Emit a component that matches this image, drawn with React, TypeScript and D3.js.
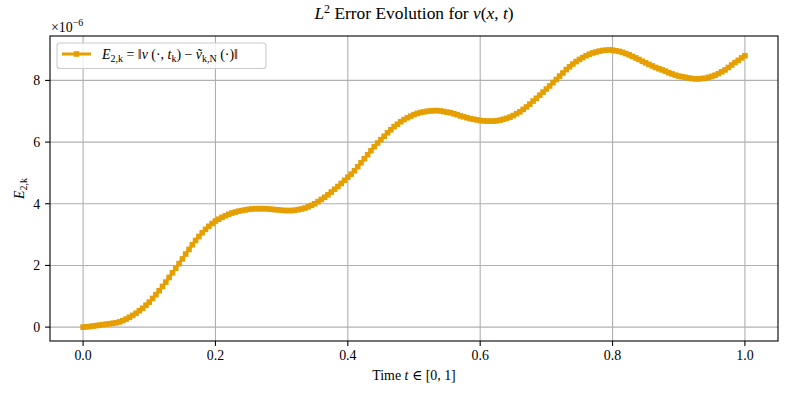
import React from "react";
import * as d3 from "d3";

// time grid (201 samples on [0,1])
const T_COUNT = 201;
const T_VALUES: number[] = Array.from({ length: T_COUNT }, (_, i) => i / (T_COUNT - 1));

// E_{2,k} values, in units of 1e-6
const E_VALUES: number[] = [
  0.00, 0.01, 0.02, 0.035, 0.05, 0.065, 0.08, 0.095, 0.11, 0.125,
  0.14, 0.17, 0.21, 0.26, 0.32, 0.38, 0.45, 0.53, 0.61, 0.71,
  0.81, 0.93, 1.05, 1.18, 1.32, 1.46, 1.61, 1.76, 1.91, 2.06,
  2.21, 2.37, 2.52, 2.67, 2.81, 2.94, 3.06, 3.17, 3.27, 3.36,
  3.44, 3.50, 3.56, 3.61, 3.66, 3.70, 3.73, 3.76, 3.78, 3.80,
  3.82, 3.83, 3.84, 3.84, 3.84, 3.84, 3.83, 3.82, 3.81, 3.80,
  3.79, 3.78, 3.78, 3.78, 3.79, 3.81, 3.83, 3.86, 3.90, 3.95,
  4.00, 4.07, 4.14, 4.21, 4.29, 4.38, 4.47, 4.56, 4.66, 4.76,
  4.86, 4.96, 5.07, 5.20, 5.33, 5.46, 5.59, 5.72, 5.85, 5.97,
  6.08, 6.19, 6.30, 6.40, 6.50, 6.58, 6.66, 6.73, 6.79, 6.84,
  6.89, 6.93, 6.96, 6.98, 7.00, 7.01, 7.02, 7.02, 7.01, 6.99,
  6.97, 6.95, 6.92, 6.89, 6.85, 6.82, 6.79, 6.76, 6.74, 6.72,
  6.70, 6.69, 6.68, 6.68, 6.68, 6.69, 6.71, 6.74, 6.77, 6.81,
  6.86, 6.92, 6.98, 7.06, 7.14, 7.23, 7.33, 7.42, 7.52, 7.62,
  7.72, 7.82, 7.93, 8.03, 8.14, 8.24, 8.35, 8.44, 8.53, 8.61,
  8.68, 8.74, 8.80, 8.85, 8.89, 8.92, 8.95, 8.97, 8.98, 8.99,
  8.98, 8.96, 8.94, 8.91, 8.87, 8.83, 8.78, 8.73, 8.68, 8.62,
  8.57, 8.52, 8.47, 8.42, 8.38, 8.34, 8.30, 8.25, 8.21, 8.17,
  8.14, 8.12, 8.10, 8.08, 8.06, 8.05, 8.05, 8.06, 8.07, 8.10,
  8.13, 8.17, 8.22, 8.28, 8.34, 8.42, 8.50, 8.58, 8.65, 8.73,
  8.80,
];

const X_TICKS = [0, 0.2, 0.4, 0.6, 0.8, 1.0];
const Y_TICKS = [0, 2, 4, 6, 8];

const W = 793;
const H = 397;
const M = { left: 50, right: 778, top: 36, bottom: 341 };
const ORANGE = "#E69F00";
const FONT = "'Liberation Serif', 'DejaVu Serif', serif";

export default function App() {
  const x = d3.scaleLinear().domain([-0.05, 1.05]).range([M.left, M.right]);
  const y = d3.scaleLinear().domain([-0.45, 9.44]).range([M.bottom, M.top]);
  const data = T_VALUES.map((t, i) => [t, E_VALUES[i]] as [number, number]);
  const line = d3
    .line<[number, number]>()
    .x((d) => x(d[0]))
    .y((d) => y(d[1]));
  const ms = 5.6;

  return (
    <div>
      <style>{`body{margin:0}`}</style>
      <svg width={W} height={H} style={{ display: "block", background: "#fff" }} fontFamily={FONT}>
        {/* grid */}
        {X_TICKS.map((t) => (
          <line key={"gx" + t} x1={x(t)} x2={x(t)} y1={M.top} y2={M.bottom} stroke="#b0b0b0" strokeWidth={1.1} />
        ))}
        {Y_TICKS.map((t) => (
          <line key={"gy" + t} x1={M.left} x2={M.right} y1={y(t)} y2={y(t)} stroke="#b0b0b0" strokeWidth={1.1} />
        ))}
        {/* series */}
        <path d={line(data) || ""} fill="none" stroke={ORANGE} strokeWidth={3} strokeLinejoin="round" />
        {data.map((d, i) => (
          <rect key={i} x={x(d[0]) - ms / 2} y={y(d[1]) - ms / 2} width={ms} height={ms} fill={ORANGE} />
        ))}
        {/* spines */}
        <rect x={M.left} y={M.top} width={M.right - M.left} height={M.bottom - M.top} fill="none" stroke="#000" strokeWidth={1.1} />
        {/* x ticks */}
        {X_TICKS.map((t) => (
          <g key={"xt" + t}>
            <line x1={x(t)} x2={x(t)} y1={M.bottom} y2={M.bottom + 4.9} stroke="#000" strokeWidth={1.1} />
            <text x={x(t)} y={M.bottom + 19} textAnchor="middle" fontSize={13.9} fill="#000">
              {t.toFixed(1)}
            </text>
          </g>
        ))}
        {/* y ticks */}
        {Y_TICKS.map((t) => (
          <g key={"yt" + t}>
            <line x1={M.left - 4.9} x2={M.left} y1={y(t)} y2={y(t)} stroke="#000" strokeWidth={1.1} />
            <text x={M.left - 9.8} y={y(t) + 4.8} textAnchor="end" fontSize={13.9} fill="#000">
              {String(t)}
            </text>
          </g>
        ))}
        {/* offset text */}
        <text x={51} y={32} fontSize={13.9} fill="#000">
          ×10<tspan fontSize={10} dy={-6}>−6</tspan>
        </text>
        {/* title */}
        <text x={(M.left + M.right) / 2} y={19} textAnchor="middle" fontSize={17.4} fill="#000">
          <tspan fontStyle="italic">L</tspan>
          <tspan fontSize={12} dy={-6.5}>2</tspan>
          <tspan dy={6.5}> Error Evolution for </tspan>
          <tspan fontStyle="italic">v</tspan>(<tspan fontStyle="italic">x</tspan>, <tspan fontStyle="italic">t</tspan>)
        </text>
        {/* x label */}
        <text x={(M.left + M.right) / 2} y={380} textAnchor="middle" fontSize={13.9} fill="#000">
          Time <tspan fontStyle="italic">t</tspan> ∈ [0, 1]
        </text>
        {/* y label */}
        <text transform={`translate(24, ${(M.top + M.bottom) / 2}) rotate(-90)`} textAnchor="middle" fontSize={13.9} fill="#000">
          <tspan fontStyle="italic">E</tspan>
          <tspan fontSize={10} dy={3}>2,k</tspan>
        </text>
        {/* legend */}
        <g>
          <rect x={57} y={43} width={209} height={25.5} rx={3} fill="#fff" fillOpacity={0.8} stroke="#cccccc" strokeWidth={1.1} />
          <line x1={62} x2={91} y1={54} y2={54} stroke={ORANGE} strokeWidth={3} />
          <rect x={76.5 - ms / 2} y={54 - ms / 2} width={ms} height={ms} fill={ORANGE} />
          <text x={102} y={59} fontSize={13.9} fill="#000">
            <tspan fontStyle="italic">E</tspan>
            <tspan fontSize={10} dy={3}>2,k</tspan>
            <tspan dy={-3}> = ‖</tspan>
            <tspan fontStyle="italic">v</tspan>
            <tspan> (·, </tspan>
            <tspan fontStyle="italic">t</tspan>
            <tspan fontSize={10} dy={3}>k</tspan>
            <tspan dy={-3}>) − </tspan>
            <tspan fontStyle="italic">ṽ</tspan>
            <tspan fontSize={10} dy={3}>k,N</tspan>
            <tspan dy={-3}> (·)‖</tspan>
          </text>
        </g>
      </svg>
    </div>
  );
}
